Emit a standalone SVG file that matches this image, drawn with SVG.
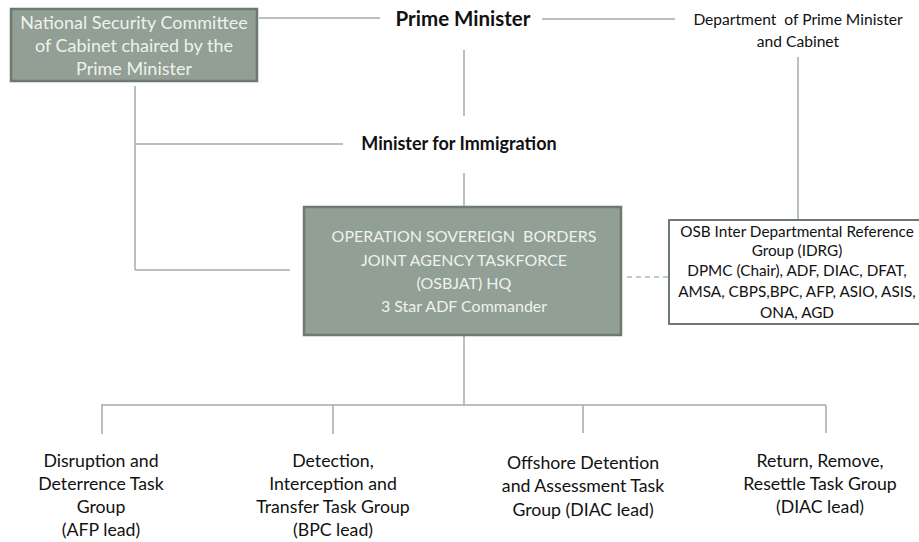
<svg xmlns="http://www.w3.org/2000/svg" width="919" height="542" viewBox="0 0 919 542">
<style>
.t{font-family:Lato,"Liberation Sans",sans-serif;text-anchor:middle;fill:#111111}
.w{fill:#eef2ee}
.b{font-weight:bold}
.ln{stroke:#a3abab;stroke-width:1.5;fill:none}
.dash{stroke:#8a9494;stroke-width:1.2;stroke-dasharray:5 4;fill:none}
.gbox{fill:#929f94;stroke:#6d7a6e;stroke-width:2.5}
.wbox{fill:#ffffff;stroke:#6d7a6e;stroke-width:2}
</style>
<rect width="919" height="542" fill="#ffffff"/>
<g id="connectors">
<line class="ln" x1="259" y1="18" x2="380" y2="18"/>
<line class="ln" x1="542" y1="19" x2="675" y2="19"/>
<line class="ln" x1="464" y1="50" x2="464" y2="116"/>
<line class="ln" x1="798" y1="57" x2="798" y2="219"/>
<line class="ln" x1="135" y1="86" x2="135" y2="270"/>
<line class="ln" x1="135" y1="144" x2="343" y2="144"/>
<line class="ln" x1="135" y1="270" x2="290" y2="270"/>
<line class="ln" x1="464" y1="173" x2="464" y2="206"/>
<line class="dash" x1="627" y1="277" x2="668" y2="277"/>
<line class="ln" x1="464" y1="336" x2="464" y2="405"/>
<line class="ln" x1="101" y1="405" x2="826" y2="405"/>
<line class="ln" x1="102" y1="405" x2="102" y2="434"/>
<line class="ln" x1="333" y1="405" x2="333" y2="434"/>
<line class="ln" x1="583" y1="405" x2="583" y2="433"/>
<line class="ln" x1="826" y1="405" x2="826" y2="433"/>
</g>
<g id="nsc">
<rect class="gbox" x="11" y="9" width="246" height="72"/>
<text class="t w" font-size="18"><tspan x="134" y="29">National Security Committee</tspan><tspan x="134" y="52">of Cabinet chaired by the</tspan><tspan x="134" y="75">Prime Minister</tspan></text>
</g>
<g id="pm">
<text class="t b" font-size="20.5" x="463" y="26">Prime Minister</text>
</g>
<g id="dpmc">
<text class="t" font-size="15.6" xml:space="preserve"><tspan x="798" y="25">Department  of Prime Minister</tspan><tspan x="798" y="47">and Cabinet</tspan></text>
</g>
<g id="mfi">
<text class="t b" font-size="18" x="459" y="150">Minister for Immigration</text>
</g>
<g id="osbjat">
<rect class="gbox" x="304" y="207" width="317" height="128"/>
<text class="t w" font-size="16" xml:space="preserve"><tspan x="464" y="242">OPERATION SOVEREIGN  BORDERS</tspan><tspan x="464" y="266">JOINT AGENCY TASKFORCE</tspan><tspan x="464" y="289">(OSBJAT) HQ</tspan><tspan x="464" y="312">3 Star ADF Commander</tspan></text>
</g>
<g id="idrg">
<rect class="wbox" x="669" y="220" width="252" height="104"/>
<text class="t" font-size="15.3"><tspan x="797" y="237">OSB Inter Departmental Reference</tspan><tspan x="797" y="256">Group (IDRG)</tspan><tspan x="797" y="276">DPMC (Chair), ADF, DIAC, DFAT,</tspan><tspan x="797" y="297">AMSA, CBPS,BPC, AFP, ASIO, ASIS,</tspan><tspan x="797" y="318">ONA, AGD</tspan></text>
</g>
<g id="tg1">
<text class="t" font-size="17.7"><tspan x="101" y="467">Disruption and</tspan><tspan x="101" y="490">Deterrence Task</tspan><tspan x="101" y="513">Group</tspan><tspan x="101" y="536">(AFP lead)</tspan></text>
</g>
<g id="tg2">
<text class="t" font-size="17.7"><tspan x="333" y="467">Detection,</tspan><tspan x="333" y="490">Interception and</tspan><tspan x="333" y="513">Transfer Task Group</tspan><tspan x="333" y="536">(BPC lead)</tspan></text>
</g>
<g id="tg3">
<text class="t" font-size="17.7"><tspan x="583" y="469">Offshore Detention</tspan><tspan x="583" y="492">and Assessment Task</tspan><tspan x="583" y="516">Group (DIAC lead)</tspan></text>
</g>
<g id="tg4">
<text class="t" font-size="17.7"><tspan x="820" y="467">Return, Remove,</tspan><tspan x="820" y="490">Resettle Task Group</tspan><tspan x="820" y="513">(DIAC lead)</tspan></text>
</g>
</svg>
